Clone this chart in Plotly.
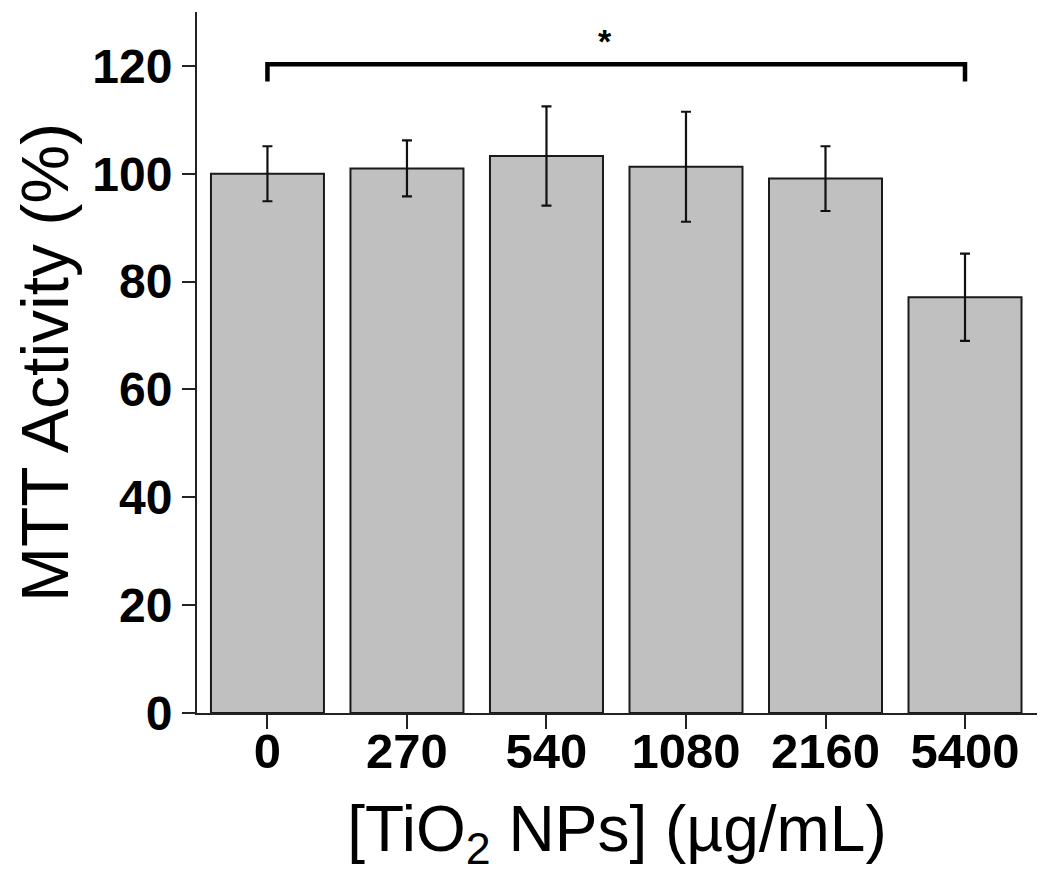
import plotly.graph_objects as go

categories = ["0", "270", "540", "1080", "2160", "5400"]
values = [100.0, 101.0, 103.3, 101.3, 99.1, 77.1]
errors = [5.1, 5.2, 9.2, 10.2, 6.0, 8.1]
y_ticks = [0, 20, 40, 60, 80, 100, 120]
sig_from, sig_to = 0, 5
sig_level = 120.3
sig_drop = 3.2
sig_label = "*"

FONT = "Liberation Sans"

fig = go.Figure()
fig.add_trace(go.Bar(
    x=list(range(len(categories))), y=values,
    width=0.81,
    marker=dict(color="#c0c0c0", line=dict(color="#1a1a1a", width=2)),
    error_y=dict(type="data", array=errors, visible=True, color="#111111",
                 thickness=2.2, width=5),
    showlegend=False,
))

# significance bracket
fig.add_trace(go.Scatter(
    x=[sig_from, sig_from, sig_to, sig_to],
    y=[sig_level - sig_drop, sig_level, sig_level, sig_level - sig_drop],
    mode="lines", line=dict(color="black", width=4.5),
    showlegend=False, hoverinfo="skip", cliponaxis=False,
))
fig.add_annotation(x=(sig_from + sig_to) / 2 - 0.08, y=sig_level, text="<b>" + sig_label + "</b>",
                   showarrow=False, yanchor="bottom", yshift=2,
                   font=dict(family=FONT, size=34, color="black"))

fig.update_layout(
    width=1050, height=879,
    margin=dict(l=189, r=21, t=4, b=174),
    paper_bgcolor="white", plot_bgcolor="white",
    font=dict(family=FONT, color="black"),
    bargap=0.19,
)
fig.update_xaxes(
    range=[-0.505, 5.516], automargin=False,
    tickmode="array", tickvals=list(range(len(categories))), ticktext=categories,
    tickfont=dict(family=FONT, size=49, color="black", weight="bold"),
    ticks="outside", ticklen=14, tickwidth=2, tickcolor="#222",
    ticklabelstandoff=-20,
    showline=True, linewidth=2, linecolor="#222", mirror=False,
    showgrid=False, zeroline=False,
    title=dict(text="[TiO<sub>2</sub> NPs] (\u00b5g/mL)",
               font=dict(family=FONT, size=64, color="black"), standoff=29),
)
fig.update_yaxes(
    range=[0, 130], automargin=False,
    tickmode="array", tickvals=y_ticks,
    tickfont=dict(family=FONT, size=48, color="black", weight="bold"),
    ticks="outside", ticklen=13, tickwidth=2, tickcolor="#222",
    showline=True, linewidth=2, linecolor="#222", mirror=False,
    showgrid=False, zeroline=False,
    title=dict(text="MTT Activity (%)",
               font=dict(family=FONT, size=66, color="black"), standoff=14),
)

fig.write_html("out.html")
